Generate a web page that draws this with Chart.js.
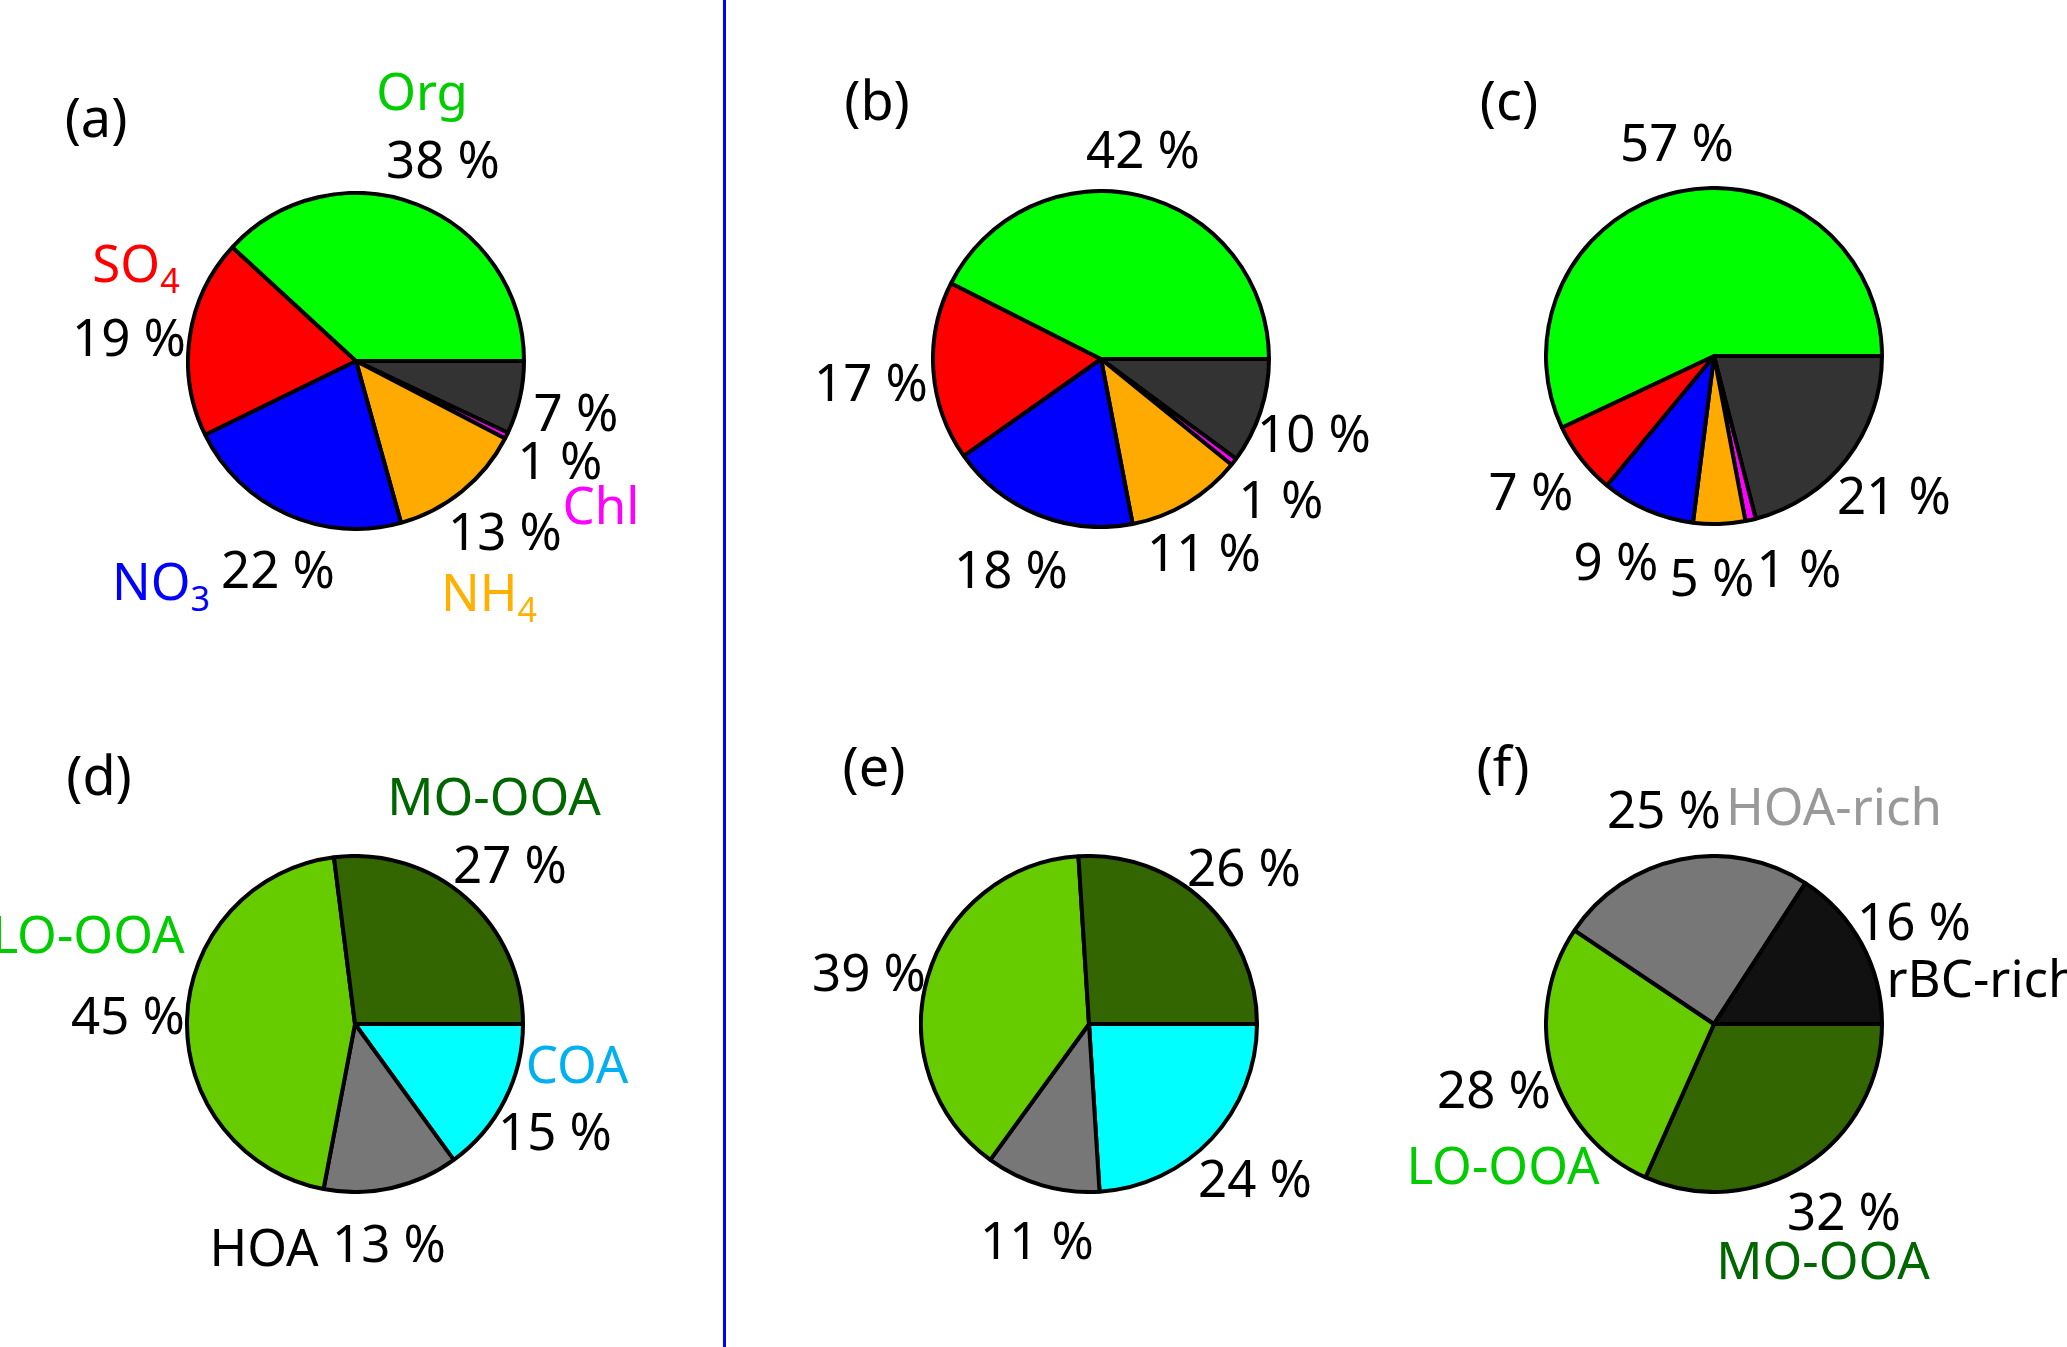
<!DOCTYPE html>
<html>
<head>
<meta charset="utf-8">
<script src="https://cdn.jsdelivr.net/npm/chart.js@4.4.1/dist/chart.umd.min.js"></script>
<style>
  html, body { margin: 0; padding: 0; background: #fff; }
  #page { position: relative; width: 2067px; height: 1347px; overflow: hidden; font-family: "Noto Sans", "Open Sans", sans-serif; }
  .pie { position: absolute; width: 340px; height: 340px; }
  .lbl { position: absolute; transform: translate(-50%, -50%); font-size: 51px; white-space: nowrap; line-height: 1; color: #000; }
  .lbl.tag { font-size: 54px; }
  .lbl sub { font-size: 34px; vertical-align: -11px; line-height: 0; }
  #divider { position: absolute; left: 723px; top: 0; width: 3px; height: 1347px; background: #0000ff; }
</style>
</head>
<body>
<div id="page"><div id="divider"></div></div>
<script>
// species, counter-clockwise from 3 o'clock
const species = ['Org', 'SO4', 'NO3', 'NH4', 'Chl', 'BC'];
const speciesColors = ['#00ff00', '#ff0000', '#0000ff', '#ffaa00', '#ff00ff', '#333333'];
const valuesA = [38, 19, 22, 13, 0.6, 7];
const valuesB = [42, 17, 18, 11, 0.7, 10];
const valuesC = [57, 7, 9, 5, 1, 21];

const factors = ['MO-OOA', 'LO-OOA', 'HOA', 'COA'];
const factorColors = ['#336600', '#66cc00', '#777777', '#00ffff'];
const valuesD = [27, 45, 13, 15];
const valuesE = [26, 39, 11, 24];

const factorsF = ['rBC-rich', 'HOA-rich', 'LO-OOA', 'MO-OOA'];
const factorColorsF = ['#111111', '#777777', '#66cc00', '#336600'];
const valuesF = [16, 25, 28, 32];

// layout: pie centre, panel tag position, percentage label positions, name labels
const panels = [
  { tag: '(a)', tagPos: [96, 116], c: [356, 361], labels: species, colors: speciesColors, values: valuesA,
    pct: [[443, 158], [129, 336], [278, 568], [505, 530], [560, 459], [576, 411]],
    names: [['Org', [422, 90], '#00cc00'], ['SO<sub>4</sub>', [136, 262], '#ff0000'],
            ['NO<sub>3</sub>', [161, 580], '#0000ff'], ['NH<sub>4</sub>', [489, 591], '#ffb000'],
            ['Chl', [601, 504], '#ff00ff']] },
  { tag: '(b)', tagPos: [877, 99], c: [1101, 359], labels: species, colors: speciesColors, values: valuesB,
    pct: [[1143, 148], [871, 381], [1011, 568], [1204, 551], [1281, 498], [1314, 432]], names: [] },
  { tag: '(c)', tagPos: [1509, 99], c: [1714, 356], labels: species, colors: speciesColors, values: valuesC,
    pct: [[1677, 141], [1531, 490], [1616, 560], [1712, 576], [1799, 567], [1894, 494]], names: [] },
  { tag: '(d)', tagPos: [99, 774], c: [355, 1024], labels: factors, colors: factorColors, values: valuesD,
    pct: [[510, 863], [128, 1014], [389, 1242], [555, 1130]],
    names: [['MO-OOA', [494, 795], '#006600'], ['LO-OOA', [88, 933], '#00cc00'],
            ['HOA', [264, 1246], '#000000'], ['COA', [577, 1063], '#00b0f0']] },
  { tag: '(e)', tagPos: [874, 765], c: [1089, 1024], labels: factors, colors: factorColors, values: valuesE,
    pct: [[1244, 866], [869, 971], [1037, 1239], [1255, 1177]], names: [] },
  { tag: '(f)', tagPos: [1503, 765], c: [1714, 1024], labels: factorsF, colors: factorColorsF, values: valuesF,
    pct: [[1914, 920], [1664, 808], [1494, 1088], [1844, 1210]],
    names: [['HOA-rich', [1834, 805], '#999999'], ['rBC-rich', [1983, 977], '#000000'],
            ['LO-OOA', [1503, 1164], '#00cc00'], ['MO-OOA', [1823, 1259], '#006600']] }
];

const page = document.getElementById('page');

function addLabel(html, pos, color, cls) {
  const d = document.createElement('div');
  d.className = 'lbl' + (cls ? ' ' + cls : '');
  d.innerHTML = html;
  d.style.left = pos[0] + 'px';
  d.style.top = pos[1] + 'px';
  if (color) d.style.color = color;
  page.appendChild(d);
}

panels.forEach(p => {
  const box = document.createElement('div');
  box.className = 'pie';
  box.style.left = (p.c[0] - 170) + 'px';
  box.style.top = (p.c[1] - 170) + 'px';
  const cv = document.createElement('canvas');
  box.appendChild(cv);
  page.appendChild(box);

  // Chart.js draws clockwise, so reverse to get counter-clockwise from 3 o'clock
  new Chart(cv, {
    type: 'pie',
    data: {
      labels: p.labels.slice().reverse(),
      datasets: [{
        data: p.values.slice().reverse(),
        backgroundColor: p.colors.slice().reverse(),
        borderColor: '#000000',
        borderWidth: 4
      }]
    },
    options: {
      responsive: true,
      maintainAspectRatio: false,
      animation: false,
      rotation: 90,
      devicePixelRatio: 1,
      layout: { padding: 0 },
      plugins: { legend: { display: false }, tooltip: { enabled: false } }
    }
  });

  addLabel(p.tag, p.tagPos, null, 'tag');
  p.values.forEach((v, i) => addLabel(Math.round(v) + ' %', p.pct[i]));
  p.names.forEach(n => addLabel(n[0], n[1], n[2]));
});
</script>
</body>
</html>
